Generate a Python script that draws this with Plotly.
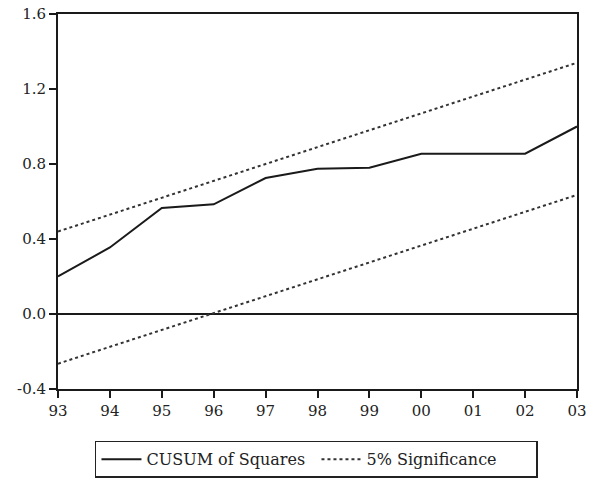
import plotly.graph_objects as go

years = [1993, 1994, 1995, 1996, 1997, 1998, 1999, 2000, 2001, 2002, 2003]
year_labels = ["93", "94", "95", "96", "97", "98", "99", "00", "01", "02", "03"]
cusum_sq = [0.20, 0.355, 0.565, 0.585, 0.725, 0.775, 0.78, 0.855, 0.855, 0.855, 1.00]
upper_5 = [0.44, 0.53, 0.62, 0.71, 0.80, 0.89, 0.98, 1.07, 1.16, 1.25, 1.34]
lower_5 = [-0.265, -0.175, -0.085, 0.005, 0.095, 0.185, 0.275, 0.365, 0.455, 0.545, 0.635]
y_ticks = [-0.4, 0.0, 0.4, 0.8, 1.2, 1.6]
y_labels = ["-0.4", "0.0", "0.4", "0.8", "1.2", "1.6"]

font_family = "DejaVu Serif, Liberation Serif, serif"

fig = go.Figure()
fig.add_trace(go.Scatter(x=years, y=cusum_sq, mode="lines", name="CUSUM of Squares",
                         line=dict(color="#1a1a1a", width=2)))
fig.add_trace(go.Scatter(x=years, y=upper_5, mode="lines", name="5% Significance",
                         line=dict(color="#333333", width=2, dash="dot")))
fig.add_trace(go.Scatter(x=years, y=lower_5, mode="lines", name="5% Significance",
                         showlegend=False,
                         line=dict(color="#333333", width=2, dash="dot")))

fig.update_layout(
    width=594, height=483,
    margin=dict(l=58, r=17, t=14, b=94, autoexpand=False),
    paper_bgcolor="white", plot_bgcolor="white",
    font=dict(family=font_family, size=15, color="#222222"),
    showlegend=True,
    legend=dict(orientation="h", x=0.498, xanchor="center", y=-0.138, yanchor="top",
                bordercolor="#222222", borderwidth=1.5,
                font=dict(family=font_family, size=16, color="#222222"),
                itemwidth=40, entrywidth=165, tracegroupgap=0),
)
fig.update_xaxes(
    range=[1993, 2003], tickvals=years, ticktext=year_labels,
    showline=True, linecolor="#1a1a1a", linewidth=2, mirror=True,
    ticks="outside", ticklen=7, tickwidth=2, tickcolor="#1a1a1a",
    showgrid=False, zeroline=False, automargin=False,
)
fig.update_yaxes(
    range=[-0.4, 1.6], tickvals=y_ticks, ticktext=y_labels,
    showline=True, linecolor="#1a1a1a", linewidth=2, mirror=True,
    ticks="outside", ticklen=7, tickwidth=2, tickcolor="#1a1a1a",
    showgrid=False, zeroline=True, zerolinecolor="#1a1a1a", zerolinewidth=1.5,
    automargin=False,
)

fig.write_html("out.html", config={"displayModeBar": False},
               post_script="document.body.style.margin='0';")
